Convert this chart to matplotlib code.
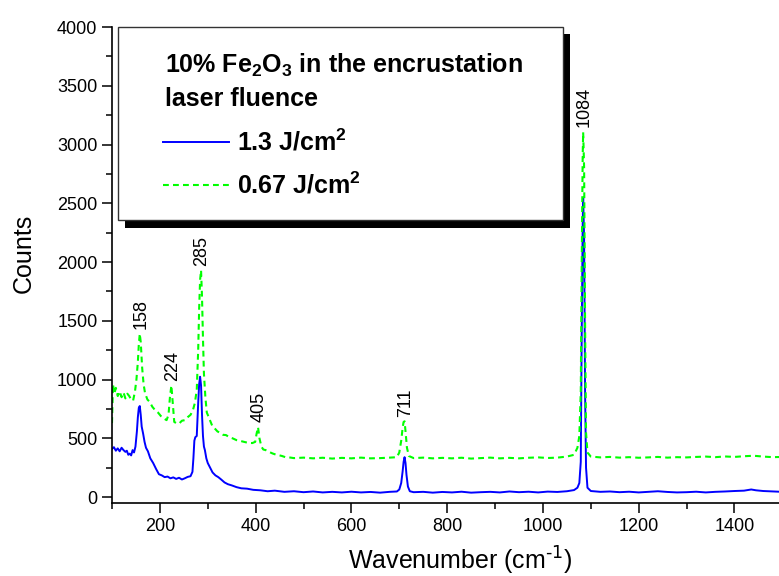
import numpy as np
from matplotlib import pyplot as plt
from matplotlib.lines import Line2D
from matplotlib.patches import Rectangle
from matplotlib.ticker import MultipleLocator

plt.rcParams['font.family'] = ['Liberation Sans', 'DejaVu Sans']
plt.rcParams['mathtext.default'] = 'regular'

# 1.3 J/cm2 spectrum (blue)
wn_high = [100, 104, 108, 112, 116, 120, 124, 128, 131, 134, 137, 140, 143, 146, 149,
           152, 154, 156, 158, 160, 162, 165, 168, 171, 175, 180, 186, 192, 198, 204,
           210, 216, 222, 228, 234, 240, 246, 252, 258, 264, 268, 270, 272, 274, 277,
           280, 282, 284, 286, 288, 290, 292, 294, 297, 300, 305, 310, 316, 322, 328,
           335, 342, 350, 360, 370, 382, 395, 410, 425, 440, 460, 480, 500, 520, 540,
           560, 580, 600, 620, 640, 660, 680, 695, 700, 704, 707, 709, 711, 713, 715,
           718, 722, 730, 750, 770, 790, 810, 830, 850, 870, 890, 910, 930, 950, 970,
           990, 1010, 1030, 1050, 1065, 1072, 1076, 1079, 1081, 1083, 1084, 1086, 1088, 1090, 1093,
           1100, 1120, 1140, 1160, 1180, 1200, 1220, 1240, 1260, 1280, 1300, 1320, 1340, 1360, 1380,
           1400, 1420, 1435, 1445, 1460, 1480, 1500]
counts_high = [410, 425, 395, 415, 390, 420, 400, 385, 395, 360, 370, 355, 400, 380, 430,
               560, 680, 760, 775, 700, 600, 540, 470, 420, 390, 330, 290, 240, 195, 185,
               170, 175, 160, 168, 155, 165, 150, 160, 172, 178, 215, 330, 480, 510, 520,
               800, 960, 1024, 950, 700, 520, 430, 400, 330, 290, 250, 210, 185, 170, 150,
               125, 110, 100, 85, 75, 72, 62, 58, 50, 55, 45, 50, 42, 48, 40,
               45, 40, 46, 40, 44, 38, 45, 48, 65, 120, 220, 300, 340, 290, 190,
               90, 50, 42, 45, 38, 44, 40, 46, 38, 42, 45, 40, 48, 42, 46,
               40, 47, 44, 50, 60, 80, 120, 300, 1400, 2300, 2545, 2200, 900, 250, 80,
               52, 45, 48, 42, 46, 40, 45, 50, 44, 40, 42, 46, 40, 45, 48,
               52, 55, 65, 58, 52, 48, 45]

# 0.67 J/cm2 spectrum (green)
wn_low = [100, 102, 105, 108, 112, 116, 120, 124, 128, 132, 136, 140, 144, 148, 151,
          154, 156, 158, 160, 163, 166, 169, 174, 179, 184, 190, 196, 202, 208, 214,
          218, 221, 224, 227, 230, 234, 240, 246, 252, 258, 264, 269, 273, 277, 280,
          282, 284, 286, 288, 290, 292, 295, 298, 302, 306, 310, 314, 320, 326, 332,
          338, 345, 352, 360, 368, 376, 384, 393, 399, 402, 405, 408, 412, 416, 421,
          428, 435, 442, 448, 455, 462, 470, 480, 500, 520, 540, 560, 580, 600, 620,
          640, 660, 680, 695, 700, 704, 707, 709, 711, 713, 716, 720, 730, 750, 770,
          790, 810, 830, 850, 870, 890, 910, 930, 950, 970, 990, 1010, 1030, 1050, 1065,
          1072, 1076, 1079, 1081, 1083, 1084, 1086, 1088, 1090, 1093, 1100, 1120, 1140, 1160, 1180,
          1200, 1220, 1240, 1260, 1280, 1300, 1320, 1340, 1360, 1380, 1400, 1420, 1440, 1460, 1480,
          1500]
counts_low = [630, 960, 880, 930, 860, 900, 850, 890, 840, 880, 860, 830, 820, 900, 1000,
              1150, 1300, 1390, 1320, 1100, 960, 885, 830, 810, 770, 740, 720, 690, 670, 655,
              700, 850, 950, 800, 640, 630, 625, 650, 655, 680, 700, 740, 800, 910, 1250,
              1600, 1850, 1930, 1700, 1350, 1050, 850, 720, 680, 640, 600, 587, 560, 545, 530,
              528, 510, 500, 485, 478, 470, 462, 460, 470, 540, 595, 500, 430, 405, 400,
              385, 372, 362, 357, 350, 340, 338, 332, 336, 330, 335, 328, 334, 330, 336,
              330, 332, 336, 340, 380, 480, 590, 640, 645, 560, 420, 350, 332, 336, 330,
              334, 330, 335, 328, 332, 336, 330, 334, 330, 335, 338, 333, 336, 345, 360,
              420, 520, 900, 2000, 2900, 3105, 2800, 1500, 550, 380, 345, 338, 342, 336, 340,
              335, 338, 342, 336, 340, 338, 342, 345, 340, 346, 342, 348, 352, 345, 340,
              342]

peaks = [158, 224, 285, 405, 711, 1084]

W, H = 779, 576
fig = plt.figure(figsize=(W / 100, H / 100), dpi=100)
ax = fig.add_axes([112 / W, (H - 503) / H, (W - 112) / W, (503 - 27) / H])

ax.plot(wn_high, counts_high, color='#0000ff', lw=1.4)
ax.plot(wn_low, counts_low, color='#00ff00', lw=1.5, linestyle=(0, (2.8, 2.0)))

# peak labels just above the green curve
for p in peaks:
    top = max(c for w, c in zip(wn_low, counts_low) if abs(w - p) <= 3)
    ax.text(p + 3, top + 40, str(p), rotation=90, ha='center', va='bottom', fontsize=13)

ax.set_xlim(100, 1493)
ax.set_ylim(-50, 4000)
ax.xaxis.set_major_locator(MultipleLocator(200))
ax.xaxis.set_minor_locator(MultipleLocator(100))
ax.yaxis.set_major_locator(MultipleLocator(500))
ax.yaxis.set_minor_locator(MultipleLocator(250))
ax.tick_params(which='major', direction='out', length=7, width=1.1, labelsize=13)
ax.tick_params(which='minor', direction='out', length=4, width=1.1)
for s in ['top', 'right']:
    ax.spines[s].set_visible(False)
for s in ['left', 'bottom']:
    ax.spines[s].set_linewidth(1.2)
ax.set_xlabel('Wavenumber (cm$^{\\text{-1}}$)', fontsize=18)
ax.set_ylabel('Counts', fontsize=18)
ax.xaxis.set_label_coords(0.522, -0.087)
ax.yaxis.set_label_coords(-0.114, 0.525)


# legend box drawn in figure pixels
def fx(px):
    return px / W


def fy(py):
    return 1 - py / H


fig.add_artist(Rectangle((fx(125), fy(228)), fx(570) - fx(125), fy(34) - fy(228),
                         transform=fig.transFigure, facecolor='black', edgecolor='none', zorder=5))
fig.add_artist(Rectangle((fx(118), fy(220)), fx(563) - fx(118), fy(27) - fy(220),
                         transform=fig.transFigure, facecolor='white', edgecolor='#333333',
                         lw=1.0, zorder=6))
fig.text(fx(165), fy(73), '10% Fe$_2$O$_3$ in the encrustation', fontsize=18, fontweight='bold',
         va='baseline', zorder=7)
fig.text(fx(165), fy(106), 'laser fluence', fontsize=18, fontweight='bold', va='baseline', zorder=7)
fig.add_artist(Line2D([fx(163), fx(229)], [fy(142), fy(142)], transform=fig.transFigure,
                      color='#0000ff', lw=1.4, zorder=7))
fig.text(fx(237), fy(150), '1.3 J/cm$^2$', fontsize=18, fontweight='bold', va='baseline', zorder=7)
fig.add_artist(Line2D([fx(163), fx(229)], [fy(185), fy(185)], transform=fig.transFigure,
                      color='#00ff00', lw=1.5, linestyle=(0, (2.8, 2.0)), zorder=7))
fig.text(fx(237), fy(194), '0.67 J/cm$^2$', fontsize=18, fontweight='bold', va='baseline', zorder=7)

fig.savefig('out.png', dpi=100)
